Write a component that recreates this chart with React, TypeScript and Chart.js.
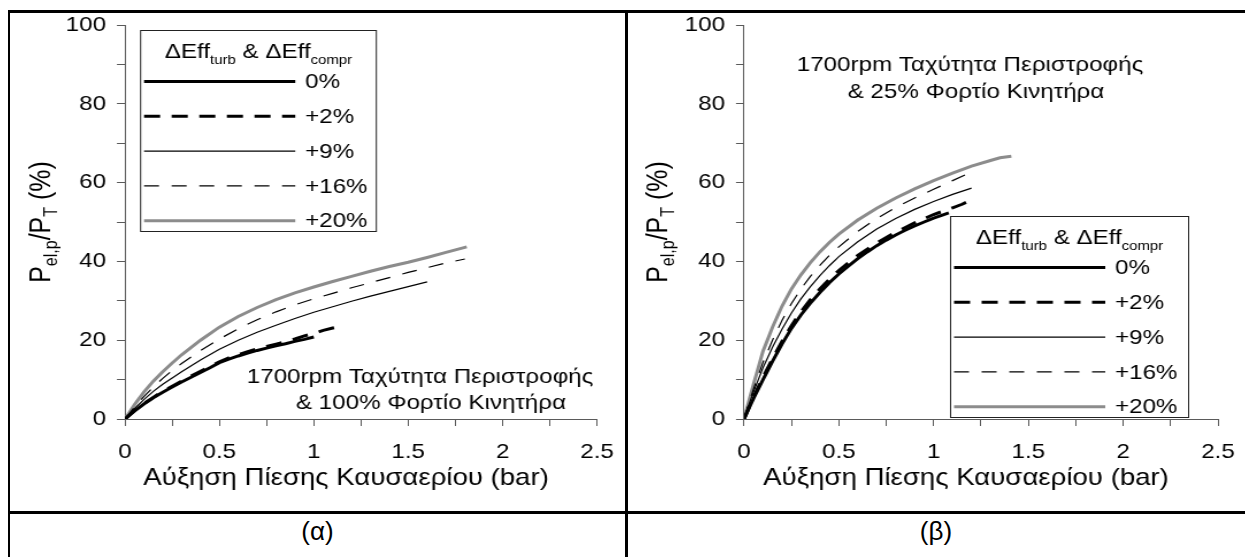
import React, { useEffect, useRef } from 'react';
import { Chart, registerables } from 'chart.js';

Chart.register(...registerables);

const FONT = '"Liberation Sans", Arial, Helvetica, sans-serif';
const SX = 1.15; // horizontal stretch of the original figure

const seriesLabels = ['0%', '+2%', '+9%', '+16%', '+20%'];
const xTickLabels = ['0', '0.5', '1', '1.5', '2', '2.5'];
const yTickLabels = ['0', '20', '40', '60', '80', '100'];
const xAxisTitle = 'Αύξηση Πίεσης Καυσαερίου (bar)';
const notesA = ['1700rpm Ταχύτητα Περιστροφής', '& 100% Φορτίο Κινητήρα'];
const notesB = ['1700rpm Ταχύτητα Περιστροφής', '& 25% Φορτίο Κινητήρα'];
const captions = ['(α)', '(β)'];

// ---- panel (α): 100% load ----
const a0x = [0, 0.05, 0.1, 0.15, 0.2, 0.25, 0.3, 0.35, 0.4, 0.45, 0.5, 0.55, 0.6, 0.65, 0.7, 0.75, 0.8, 0.85, 0.9, 0.95, 1.0];
const a0y = [0, 2.0, 3.8, 5.4, 6.8, 8.1, 9.4, 10.6, 11.8, 13.0, 14.3, 15.2, 16.0, 16.7, 17.4, 18.0, 18.6, 19.1, 19.7, 20.2, 20.8];
const a2x = [0, 0.05, 0.1, 0.15, 0.2, 0.25, 0.3, 0.35, 0.4, 0.45, 0.5, 0.55, 0.6, 0.65, 0.7, 0.75, 0.8, 0.85, 0.9, 0.95, 1.0, 1.05, 1.1, 1.14];
const a2y = [0, 2.1, 3.9, 5.5, 7.0, 8.3, 9.6, 10.9, 12.1, 13.3, 14.5, 15.5, 16.3, 17.1, 17.8, 18.4, 19.0, 19.6, 20.3, 21.1, 21.7, 22.5, 23.1, 23.5];
const a9x = [0, 0.05, 0.1, 0.15, 0.2, 0.25, 0.3, 0.4, 0.5, 0.6, 0.7, 0.8, 0.9, 1.0, 1.1, 1.2, 1.3, 1.4, 1.5, 1.6];
const a9y = [0, 2.6, 4.9, 7.0, 8.8, 10.4, 12.0, 15.0, 17.7, 20.0, 22.0, 23.8, 25.5, 27.1, 28.5, 29.9, 31.2, 32.4, 33.6, 34.8];
const a16x = [0, 0.05, 0.1, 0.15, 0.2, 0.25, 0.3, 0.4, 0.5, 0.6, 0.7, 0.8, 0.9, 1.0, 1.1, 1.2, 1.3, 1.4, 1.5, 1.6, 1.7, 1.8];
const a16y = [0, 3.0, 5.7, 8.1, 10.3, 12.3, 14.1, 17.4, 20.3, 22.9, 25.2, 27.2, 29.0, 30.5, 31.9, 33.3, 34.6, 35.9, 37.2, 38.4, 39.6, 40.6];
const a20x = [0, 0.05, 0.1, 0.15, 0.2, 0.25, 0.3, 0.4, 0.5, 0.6, 0.7, 0.8, 0.9, 1.0, 1.1, 1.2, 1.3, 1.4, 1.5, 1.6, 1.7, 1.81];
const a20y = [0, 3.6, 6.8, 9.6, 12.0, 14.2, 16.3, 20.0, 23.3, 26.0, 28.3, 30.3, 32.0, 33.5, 34.9, 36.2, 37.5, 38.7, 39.8, 41.0, 42.3, 43.7];

// ---- panel (β): 25% load ----
const b0x = [0, 0.025, 0.05, 0.1, 0.15, 0.2, 0.25, 0.3, 0.35, 0.4, 0.45, 0.5, 0.55, 0.6, 0.65, 0.7, 0.75, 0.8, 0.85, 0.9, 0.95, 1.0, 1.05, 1.08];
const b0y = [0, 2.6, 5.2, 10.0, 14.6, 19.0, 23.0, 26.4, 29.4, 32.1, 34.6, 36.8, 38.8, 40.7, 42.4, 44.0, 45.4, 46.7, 47.9, 49.0, 50.0, 51.0, 51.8, 52.3];
const b2x = [0, 0.025, 0.05, 0.1, 0.15, 0.2, 0.25, 0.3, 0.35, 0.4, 0.45, 0.5, 0.6, 0.7, 0.8, 0.9, 1.0, 1.1, 1.15, 1.2];
const b2y = [0, 2.8, 5.6, 10.6, 15.3, 19.7, 23.7, 27.2, 30.3, 33.0, 35.5, 37.7, 41.5, 44.7, 47.4, 49.8, 51.9, 53.6, 54.5, 55.6];
const b9x = [0, 0.025, 0.05, 0.1, 0.15, 0.2, 0.25, 0.3, 0.35, 0.4, 0.45, 0.5, 0.6, 0.7, 0.8, 0.9, 1.0, 1.1, 1.2];
const b9y = [0, 3.6, 6.9, 13.0, 18.2, 22.8, 26.9, 30.5, 33.6, 36.4, 38.9, 41.2, 45.0, 48.2, 50.9, 53.2, 55.2, 57.0, 58.6];
const b16x = [0, 0.025, 0.05, 0.1, 0.15, 0.2, 0.25, 0.3, 0.35, 0.4, 0.45, 0.5, 0.6, 0.7, 0.8, 0.9, 1.0, 1.1, 1.2];
const b16y = [0, 4.0, 7.6, 14.4, 20.0, 25.0, 29.3, 33.0, 36.2, 39.0, 41.5, 43.7, 47.6, 50.9, 53.7, 56.1, 58.3, 60.5, 62.7];
const b20x = [0, 0.025, 0.05, 0.1, 0.15, 0.2, 0.25, 0.3, 0.35, 0.4, 0.45, 0.5, 0.6, 0.7, 0.8, 0.9, 1.0, 1.1, 1.2, 1.3, 1.35, 1.41];
const b20y = [0, 4.5, 8.8, 17.2, 23.3, 28.6, 33.0, 36.6, 39.7, 42.4, 44.8, 46.9, 50.5, 53.5, 56.1, 58.4, 60.5, 62.4, 64.2, 65.6, 66.3, 66.7];

const STYLES = [
  { color: '#000000', width: 3, dash: [] as number[] },
  { color: '#000000', width: 3, dash: [14, 10] },
  { color: '#000000', width: 1.2, dash: [] as number[] },
  { color: '#000000', width: 1.2, dash: [13, 11] },
  { color: '#8c8c8c', width: 3, dash: [] as number[] },
];

const toPts = (xs: number[], ys: number[]) => xs.map((x, i) => ({ x, y: ys[i] }));

type Piece = { t: string; sub?: boolean };
const legendTitle: Piece[] = [{ t: 'ΔEff' }, { t: 'turb', sub: true }, { t: ' & ΔEff' }, { t: 'compr', sub: true }];
const yTitle: Piece[] = [{ t: 'P' }, { t: 'el,p', sub: true }, { t: '/P' }, { t: 'T', sub: true }, { t: ' (%)' }];

function drawPieces(ctx: CanvasRenderingContext2D, pieces: Piece[], cx: number, baseY: number, main: number, sub: number, subDy: number) {
  const ws = pieces.map((p) => {
    ctx.font = `${p.sub ? sub : main}px ${FONT}`;
    return ctx.measureText(p.t).width;
  });
  const total = ws.reduce((a, b) => a + b, 0);
  let x = cx - total / 2;
  ctx.textAlign = 'left';
  ctx.textBaseline = 'alphabetic';
  pieces.forEach((p, i) => {
    ctx.font = `${p.sub ? sub : main}px ${FONT}`;
    ctx.fillText(p.t, x, baseY + (p.sub ? subDy : 0));
    x += ws[i];
  });
}

type PanelCfg = {
  left: number;
  xs: number[][];
  ys: number[][];
  padLeft: number;
  padRight: number;
  box: { x: number; y: number; w: number; h: number };
  notes: string[];
  notePos: number[][];
};

const CW = 532;
const CH = 497;

const panelA: PanelCfg = {
  left: 11,
  xs: [a0x, a2x, a9x, a16x, a20x],
  ys: [a0y, a2y, a9y, a16y, a20y],
  padLeft: 39.1,
  padRight: 22.4,
  box: { x: 112.2, y: 17, w: 206, h: 202 },
  notes: notesA,
  notePos: [[355.7, 364], [365.2, 390.5]],
};

const panelB: PanelCfg = {
  left: 628,
  xs: [b0x, b2x, b9x, b16x, b20x],
  ys: [b0y, b2y, b9y, b16y, b20y],
  padLeft: 40.9,
  padRight: 19,
  box: { x: 280, y: 203, w: 208, h: 202 },
  notes: notesB,
  notePos: [[297.4, 52], [302.6, 79]],
};

const AXIS = '#5a5a5a';

function Panel({ cfg }: { cfg: PanelCfg }) {
  const ref = useRef<HTMLCanvasElement | null>(null);
  useEffect(() => {
    if (!ref.current) return;
    const decor = {
      id: 'decor',
      afterDraw(chart: any) {
        const ctx: CanvasRenderingContext2D = chart.ctx;
        const ca = chart.chartArea;
        ctx.save();
        ctx.fillStyle = '#000';
        // x title
        ctx.font = `24px ${FONT}`;
        ctx.textAlign = 'center';
        ctx.textBaseline = 'middle';
        ctx.fillText(xAxisTitle, (ca.left + ca.right) / 2 - 13, 465.5);
        // y title (rotated with subscripts)
        ctx.save();
        ctx.translate(24.5, (ca.top + ca.bottom) / 2);
        ctx.rotate(-Math.PI / 2);
        drawPieces(ctx, yTitle, 0, 9, 25, 16, 6);
        ctx.restore();
        // annotation
        ctx.font = `21px ${FONT}`;
        ctx.textAlign = 'center';
        ctx.textBaseline = 'middle';
        cfg.notes.forEach((t, i) => ctx.fillText(t, cfg.notePos[i][0], cfg.notePos[i][1]));
        // legend box
        const b = cfg.box;
        ctx.fillStyle = '#fff';
        ctx.fillRect(b.x, b.y, b.w, b.h);
        ctx.strokeStyle = '#222';
        ctx.lineWidth = 1;
        ctx.setLineDash([]);
        ctx.strokeRect(b.x + 0.5, b.y + 0.5, b.w - 1, b.h - 1);
        ctx.fillStyle = '#000';
        drawPieces(ctx, legendTitle, b.x + b.w / 2, b.y + 28, 21, 13, 6);
        chart.data.datasets.forEach((ds: any, i: number) => {
          const y = b.y + 51.5 + i * 34.8;
          ctx.save();
          ctx.strokeStyle = ds.borderColor;
          ctx.lineWidth = ds.borderWidth;
          ctx.setLineDash(ds.borderDash || []);
          ctx.beginPath();
          ctx.moveTo(b.x + 3.5, y);
          ctx.lineTo(b.x + 135, y);
          ctx.stroke();
          ctx.restore();
          ctx.fillStyle = '#000';
          ctx.font = `21px ${FONT}`;
          ctx.textAlign = 'left';
          ctx.textBaseline = 'middle';
          ctx.fillText(ds.label, b.x + 143.5, y + 1);
        });
        ctx.restore();
      },
    };
    const chart = new Chart(ref.current, {
      type: 'line',
      data: {
        datasets: cfg.xs.map((xs, i) => ({
          label: seriesLabels[i],
          data: toPts(xs, cfg.ys[i]),
          borderColor: STYLES[i].color,
          borderWidth: STYLES[i].width,
          borderDash: STYLES[i].dash,
          pointRadius: 0,
          fill: false,
          tension: 0,
        })),
      },
      options: {
        animation: false,
        responsive: false,
        devicePixelRatio: 1,
        events: [],
        layout: { padding: { left: cfg.padLeft, right: cfg.padRight, top: 12, bottom: 31 } },
        plugins: { legend: { display: false }, tooltip: { enabled: false } },
        scales: {
          x: {
            type: 'linear',
            min: 0,
            max: 2.5,
            afterFit: (s: any) => {
              s.height = 60;
              s.paddingLeft = 0;
              s.paddingRight = 0;
            },
            ticks: {
              stepSize: 0.25,
              autoSkip: false,
              maxRotation: 0,
              padding: 14,
              color: '#000',
              font: { size: 21, family: FONT },
              callback: (v: any) => {
                const s = String(Math.round(Number(v) * 100) / 100);
                return xTickLabels.includes(s) ? s : '';
              },
            },
            grid: { drawOnChartArea: false, drawTicks: true, tickLength: 7, color: AXIS, lineWidth: 1 },
            border: { display: true, color: AXIS, width: 1 },
          },
          y: {
            type: 'linear',
            min: 0,
            max: 100,
            afterFit: (s: any) => {
              s.width = 60;
              s.paddingTop = 0;
              s.paddingBottom = 0;
            },
            ticks: {
              stepSize: 10,
              padding: 9.5,
              color: '#000',
              font: { size: 21, family: FONT },
              callback: (v: any) => {
                const s = String(Math.round(Number(v)));
                return yTickLabels.includes(s) ? s : '';
              },
            },
            grid: { drawOnChartArea: false, drawTicks: true, tickLength: 7, color: AXIS, lineWidth: 1 },
            border: { display: true, color: AXIS, width: 1 },
          },
        },
      },
      plugins: [decor],
    } as any);
    return () => chart.destroy();
  }, [cfg]);
  return (
    <div
      style={{
        position: 'absolute',
        left: cfg.left,
        top: 13,
        width: CW,
        height: CH,
        transform: `scaleX(${SX})`,
        transformOrigin: '0 0',
      }}
    >
      <canvas ref={ref} width={CW} height={CH} style={{ width: CW, height: CH, display: 'block' }} />
    </div>
  );
}

export default function App() {
  const line = (s: React.CSSProperties) => <div style={{ position: 'absolute', background: '#000', ...s }} />;
  return (
    <div
      style={{
        position: 'fixed',
        left: 0,
        top: 0,
        width: 1245,
        height: 557,
        background: '#fff',
        overflow: 'hidden',
        fontFamily: FONT,
      }}
    >
      {line({ left: 7.5, top: 10, width: 1240, height: 2.5 })}
      {line({ left: 7.5, top: 10, width: 2.5, height: 560 })}
      {line({ left: 625, top: 10, width: 2.5, height: 560 })}
      {line({ left: 7.5, top: 511, width: 1240, height: 2.5 })}
      <Panel cfg={panelA} />
      <Panel cfg={panelB} />
      <div style={{ position: 'absolute', left: 10, top: 514, width: 615, height: 34, lineHeight: '34px', textAlign: 'center', fontSize: 26, color: '#000' }}>
        {captions[0]}
      </div>
      <div style={{ position: 'absolute', left: 627, top: 514, width: 618, height: 34, lineHeight: '34px', textAlign: 'center', fontSize: 26, color: '#000' }}>
        {captions[1]}
      </div>
    </div>
  );
}
